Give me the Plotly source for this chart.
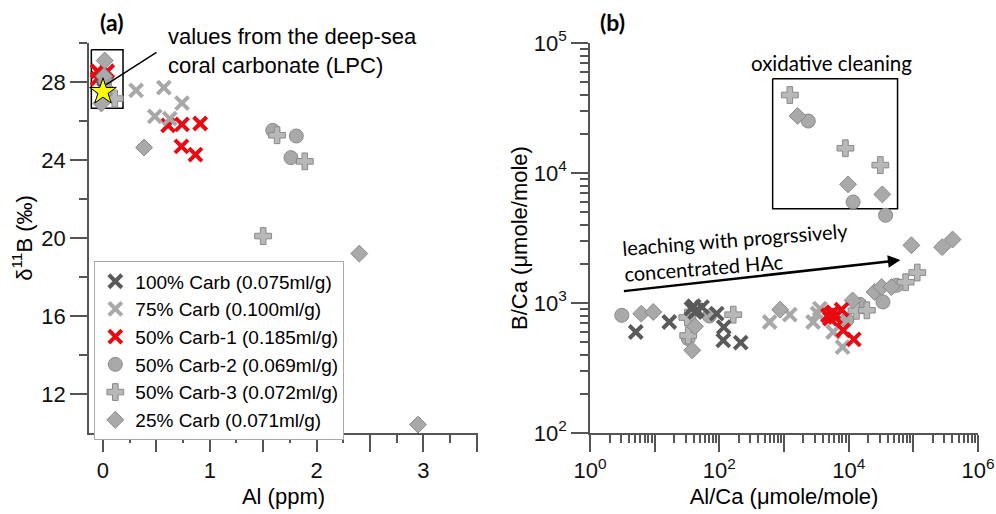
import plotly.graph_objects as go

# ---------------- Panel (a): Al (ppm) vs d11B ----------------
a_carb100_x = [0.01, 0.03, 0.0]
a_carb100_y = [28.15, 27.95, 27.75]
a_carb75_x = [0.31, 0.57, 0.74, 0.485, 0.625]
a_carb75_y = [27.57, 27.71, 26.92, 26.24, 26.12]
a_carb50_1_x = [0.61, 0.74, 0.91, 0.735, 0.866, -0.05, 0.04, -0.05]
a_carb50_1_y = [25.78, 25.83, 25.87, 24.70, 24.28, 28.55, 28.55, 28.17]
a_carb50_2_x = [1.59, 1.81, 1.76, 0.02, 0.03]
a_carb50_2_y = [25.52, 25.23, 24.12, 28.1, 27.6]
a_carb50_3_x = [1.63, 1.89, 1.50, 0.11]
a_carb50_3_y = [25.27, 23.93, 20.1, 27.15]
a_carb25_x = [0.385, 2.40, 2.95, 0.016, -0.015, 0.01]
a_carb25_y = [24.64, 19.2, 10.43, 29.1, 26.9, 28.3]
lpc_x = [0.0]
lpc_y = [27.5]

# ---------------- Panel (b): Al/Ca vs B/Ca ----------------
b_carb100_x = [5.1, 16.8, 37, 42, 45, 54, 40, 91, 117, 115, 214]
b_carb100_y = [598, 714, 906, 851, 879, 931, 944, 828, 653, 516, 495]
b_carb75_x = [600, 1230, 2820, 3590, 3300, 5750, 8040]
b_carb75_y = [714, 813, 714, 906, 830, 598, 457]
b_carb50_1_x = [4790, 5430, 6170, 7760, 5130, 8220, 12000, 5750]
b_carb50_1_y = [804, 828, 780, 889, 759, 617, 525, 851]
b_carb50_2_x = [3.1, 33, 70, 9330, 14800, 33900, 55000, 2370, 11700, 37200]
b_carb50_2_y = [804, 532, 794, 741, 977, 1019, 1368, 25100, 5980, 4730]
b_carb50_3_x = [32, 33, 164, 13200, 19100, 75900, 115000, 1230, 8900, 30900]
b_carb50_3_y = [773, 562, 813, 871, 879, 1445, 1714, 39800, 15500, 11500]
b_carb25_x = [6.2, 9.5, 42, 38, 870, 11500, 25100, 32400, 45700, 93300, 279000, 404000, 1620, 9770, 33100]
b_carb25_y = [828, 853, 661, 433, 889, 1047, 1216, 1327, 1327, 2780, 2690, 3080, 27500, 8180, 6850]

series_names = ["100% Carb (0.075ml/g)", "75% Carb (0.100ml/g)", "50% Carb-1 (0.185ml/g)",
                "50% Carb-2 (0.069ml/g)", "50% Carb-3 (0.072ml/g)", "25% Carb (0.071ml/g)"]

# tick labels
a_x_tickvals = [0, 0.5, 1, 1.5, 2, 2.5, 3, 3.5]
a_x_ticktext = ["0", "", "1", "", "2", "", "3", ""]
a_x_minor = [0.25, 0.75, 1.25, 1.75, 2.25, 2.75, 3.25]
a_y_tickvals = [12, 16, 20, 24, 28]
a_y_minor = [14, 18, 22, 26, 30]
b_x_tickvals = [1, 10, 100, 1000, 10000, 100000, 1000000]
b_x_ticktext = ["10<sup>0</sup>", "", "10<sup>2</sup>", "", "10<sup>4</sup>", "", "10<sup>6</sup>"]
b_y_tickvals = [100, 1000, 10000, 100000]
b_y_ticktext = ["10<sup>2</sup>", "10<sup>3</sup>", "10<sup>4</sup>", "10<sup>5</sup>"]

b_x_minor = [m * 10 ** k for k in range(0, 6) for m in range(2, 10)]
b_y_minor = [m * 10 ** k for k in range(2, 5) for m in range(2, 10)]

DARK = "#5a5a5a"
LIGHT = "#a8a8a8"
RED = "#e80a10"
FILL = "#a9a9a9"
EDGE = "#8a8a8a"

styles = [
    dict(symbol="x-thin", size=13, line=dict(width=4, color=DARK), color=DARK),
    dict(symbol="x-thin", size=13, line=dict(width=4, color=LIGHT), color=LIGHT),
    dict(symbol="x-thin", size=13, line=dict(width=4, color=RED), color=RED),
    dict(symbol="circle", size=14, color=FILL, line=dict(width=1, color=EDGE)),
    dict(symbol="cross", size=14, color="#b8b8b8", line=dict(width=1, color=EDGE)),
    dict(symbol="diamond", size=13, color=FILL, line=dict(width=1, color=EDGE)),
]

a_data = [(a_carb100_x, a_carb100_y), (a_carb75_x, a_carb75_y), (a_carb50_1_x, a_carb50_1_y),
          (a_carb50_2_x, a_carb50_2_y), (a_carb50_3_x, a_carb50_3_y), (a_carb25_x, a_carb25_y)]
b_data = [(b_carb100_x, b_carb100_y), (b_carb75_x, b_carb75_y), (b_carb50_1_x, b_carb50_1_y),
          (b_carb50_2_x, b_carb50_2_y), (b_carb50_3_x, b_carb50_3_y), (b_carb25_x, b_carb25_y)]

fig = go.Figure()

# boxes (drawn first, behind markers)
fig.add_trace(go.Scatter(x=[-0.109, 0.1875, 0.1875, -0.109, -0.109], y=[29.66, 29.66, 26.66, 26.66, 29.66],
                         mode="lines", line=dict(color="black", width=1.5), showlegend=False,
                         hoverinfo="skip", xaxis="x", yaxis="y"))
fig.add_trace(go.Scatter(x=[667, 57000, 57000, 667, 667], y=[53200, 53200, 5320, 5320, 53200],
                         mode="lines", line=dict(color="black", width=1.5), showlegend=False,
                         hoverinfo="skip", xaxis="x2", yaxis="y2"))

order_a = [2, 0, 1, 3, 4, 5]
for i in order_a:
    x, y = a_data[i]
    fig.add_trace(go.Scatter(x=x, y=y, mode="markers", name=series_names[i], marker=styles[i],
                             legendgroup=str(i), legendrank=i + 1, showlegend=True,
                             xaxis="x", yaxis="y"))

fig.add_trace(go.Scatter(x=lpc_x, y=lpc_y, mode="markers", showlegend=False,
                         marker=dict(symbol="star", size=20, color="#ffff00", line=dict(width=1, color="black")),
                         xaxis="x", yaxis="y"))

order_b = [1, 3, 4, 5, 0, 2]
for i in order_b:
    x, y = b_data[i]
    fig.add_trace(go.Scatter(x=x, y=y, mode="markers", name=series_names[i], marker=styles[i],
                             legendgroup=str(i), showlegend=False, xaxis="x2", yaxis="y2"))

FONT = "Arial, Liberation Sans, sans-serif"
AX = "#555555"
common = dict(showgrid=False, zeroline=False, showline=True, linecolor=AX, linewidth=1.5,
              ticks="outside", ticklen=17, tickwidth=1.5, tickcolor=AX, automargin=False,
              tickfont=dict(size=22, color="#111", family=FONT))

fig.update_layout(
    width=996, height=514,
    margin=dict(l=89, r=18, t=43, b=81),
    paper_bgcolor="white", plot_bgcolor="white",
    font=dict(family=FONT, color="black"),
    showlegend=True,
    legend=dict(x=0.006, y=0.44, xanchor="left", yanchor="top",
                bordercolor="#aaaaaa", borderwidth=1, bgcolor="white",
                font=dict(size=19, family=FONT, color="black"), tracegroupgap=0),
    xaxis=dict(domain=[0, 0.4376], range=[-0.131, 3.512], anchor="y",
               tickmode="array", tickvals=a_x_tickvals, ticktext=a_x_ticktext,
               minor=dict(tickmode="array", tickvals=a_x_minor, ticks="outside", ticklen=8, tickwidth=1.5, tickcolor=AX),
               title=dict(text="Al (ppm)", font=dict(size=22, family=FONT), standoff=6), **common),
    yaxis=dict(domain=[0, 1], range=[10, 30], anchor="x",
               tickmode="array", tickvals=a_y_tickvals,
               minor=dict(tickmode="array", tickvals=a_y_minor, ticks="outside", ticklen=8, tickwidth=1.5, tickcolor=AX),
               title=dict(text="δ<sup>11</sup>B (‰)", font=dict(size=22, family=FONT), standoff=3), **common),
    xaxis2=dict(type="log", domain=[0.5636, 1], range=[0, 6], anchor="y2",
                tickmode="array", tickvals=b_x_tickvals, ticktext=b_x_ticktext,
                minor=dict(tickmode="array", tickvals=b_x_minor, ticks="outside", ticklen=8, tickwidth=1.5, tickcolor=AX),
                title=dict(text="Al/Ca (μmole/mole)", font=dict(size=22, family=FONT), standoff=6), **common),
    yaxis2=dict(type="log", domain=[0, 1], range=[2, 5], anchor="x2",
                tickmode="array", tickvals=b_y_tickvals, ticktext=b_y_ticktext,
                minor=dict(tickmode="array", tickvals=b_y_minor, ticks="outside", ticklen=8, tickwidth=1.5, tickcolor=AX),
                title=dict(text="B/Ca (μmole/mole)", font=dict(size=22, family=FONT), standoff=0), **common),
)

CAL = "Lato, Open Sans, sans-serif"
fig.add_annotation(text="<b>(a)</b>", xref="x domain", yref="y domain", x=0.058, y=1.054,
                   xanchor="center", yanchor="middle",
                   showarrow=False, font=dict(size=23, family=CAL, color="black"))
fig.add_annotation(text="<b>(b)</b>", xref="x2 domain", yref="y2 domain", x=0.059, y=1.054,
                   xanchor="center", yanchor="middle",
                   showarrow=False, font=dict(size=23, family=CAL, color="black"))
fig.add_annotation(text="values from the deep-sea<br>coral carbonate (LPC)", xref="x", yref="y",
                   x=0.59, y=29.6, xanchor="left", yanchor="middle", align="left", showarrow=False,
                   font=dict(size=22, family=FONT, color="black"))
fig.add_annotation(text="", xref="x", yref="y", x=0.03, y=27.86, ax=0.515, ay=29.57,
                   axref="x", ayref="y", showarrow=True, arrowhead=0, arrowwidth=1.5, arrowcolor="black")
fig.add_annotation(text="oxidative cleaning", xref="x2", yref="y2", x=3.74, y=4.85,
                   showarrow=False, font=dict(size=20.5, family=CAL, color="black"))
fig.add_annotation(text="leaching with progrssively<br>concentrated HAc", xref="x2", yref="y2",
                   x=2.257, y=3.39, textangle=-4.5, align="left", showarrow=False,
                   font=dict(size=20, family=CAL, color="black"))
fig.add_annotation(text="", xref="x2", yref="y2", x=4.80, y=3.33, ax=0.50, ay=3.09,
                   axref="x2", ayref="y2", showarrow=True, arrowhead=2, arrowsize=1,
                   arrowwidth=2.5, arrowcolor="black")

fig.write_html("out.html", config={"displayModeBar": False},
               post_script="document.body.style.margin='0';document.body.style.overflow='hidden';")
